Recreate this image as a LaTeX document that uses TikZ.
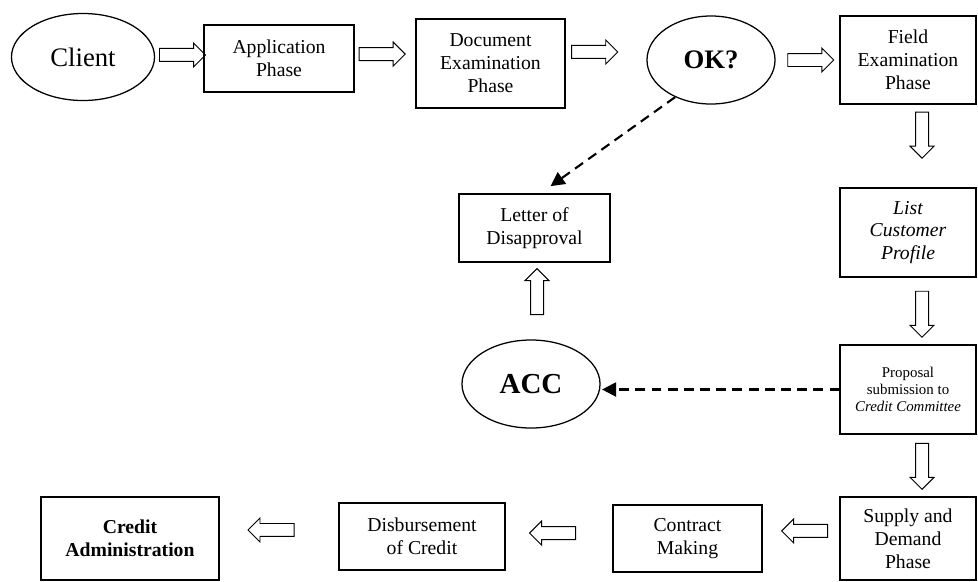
\documentclass[tikz,border=0pt]{standalone}
\usepackage{fontspec}
\setmainfont{Liberation Serif}
\usetikzlibrary{shapes.geometric,shapes.arrows,arrows.meta}

\begin{document}
\begin{tikzpicture}[x=0.025cm, y=-0.025cm,
  every node/.style={align=center, font=\fontsize{14}{16.3}\selectfont, inner sep=1pt},
  box/.style={draw, line width=0.9pt, minimum height=1.675cm},
  oval/.style={draw, ellipse, line width=0.9pt, inner sep=0pt},
  blk/.style={single arrow, draw, line width=0.7pt, inner xsep=0pt, inner ysep=0.15cm, minimum height=1.15cm,
    single arrow head extend=0.1375cm},
  rarr/.style={blk},
  larr/.style={blk, shape border rotate=180},
  darr/.style={blk, shape border rotate=270, inner xsep=0.15cm, inner ysep=0pt},
  uarr/.style={blk, shape border rotate=90, inner xsep=0.15cm, inner ysep=0pt},
  dsh/.style={line width=1.5pt, dash pattern=on 7pt off 4.5pt, -{Triangle[length=10pt,width=10pt]}}]
  \useasboundingbox (0,0) rectangle (978,581);
  % top row
  \node[oval, minimum width=3.575cm, minimum height=2.175cm, font=\fontsize{19}{22}\selectfont] (cl) at (83,57) {Client};
  \node[box, minimum width=3.75cm] (ap) at (279,58.5) {Application\\Phase};
  \node[box, minimum width=3.725cm, minimum height=2.225cm] (de) at (490.5,63.5) {Document\\Examination\\Phase};
  \node[oval, minimum width=3.2cm, minimum height=2.2cm, font=\fontsize{19}{22}\selectfont\bfseries] (ok) at (711,60) {OK?};
  \node[box, minimum width=3.4cm, minimum height=2.2cm] (fe) at (908,60) {Field\\Examination\\Phase};
  % right column
  \node[box, minimum width=3.4cm, minimum height=2.225cm, font=\fontsize{14}{16.3}\selectfont\itshape] (lc) at (908,232.5) {List\\Customer\\Profile};
  \node[box, minimum width=3.4cm, minimum height=2.225cm, font=\fontsize{10.6}{12.2}\selectfont] (ps) at (908,389.5) {Proposal\\submission to\\\textit{Credit Committee}};
  \node[box, minimum width=3.4cm, minimum height=2.075cm] (sd) at (908,538.5) {Supply and\\Demand\\Phase};
  % bottom row
  \node[box, minimum width=3.725cm] (cm) at (687.5,538.5) {Contract\\Making};
  \node[box, minimum width=4.15cm] (db) at (422,536.5) {Disbursement\\of Credit};
  \node[box, minimum width=4.45cm, minimum height=2.075cm, font=\fontsize{14}{16.3}\selectfont\bfseries] (ca) at (130,538.5) {Credit\\Administration};
  % middle
  \node[box, minimum width=3.775cm, minimum height=1.7cm] (ld) at (534.5,228) {Letter of\\Disapproval};
  \node[oval, minimum width=3.45cm, minimum height=2.2cm, font=\fontsize{20.6}{24}\selectfont\bfseries] (acc) at (531,384) {ACC};

  \path (cl.east) -- (ap.west) node[rarr, midway, yshift=0.07cm] {};
  \path (ap.east) -- (de.west) node[rarr, pos=.4, yshift=0.16cm] {};
  \path (de.east) -- (ok.west) node[rarr, pos=.32, yshift=0.26cm] {};
  \path (ok.east) -- (fe.west) node[rarr, midway] {};
  \path (fe.south) -- (lc.north) node[darr, pos=.33, xshift=0.35cm] {};
  \path (lc.south) -- (ps.north) node[darr, midway, xshift=0.35cm] {};
  \path (ps.south) -- (sd.north) node[darr, pos=.46, xshift=0.35cm] {};
  \path (sd.west) -- (cm.east) node[larr, pos=.41, yshift=0.19cm] {};
  \path (cm.west) -- (db.east) node[larr, pos=.53, yshift=0.11cm] {};
  \path (db.west) -- (ca.east) node[larr, pos=.54, yshift=0.19cm] {};
  \path (acc.north) -- (ld.south) node[uarr, pos=.58, xshift=0.1cm] {};

  \draw[dsh] (ok.226) -- ([xshift=0.4cm,yshift=0.18cm]ld.north);
  \draw[dsh, shorten >=1pt] (ps.west) -- (ps.west -| acc.east);
\end{tikzpicture}
\end{document}
